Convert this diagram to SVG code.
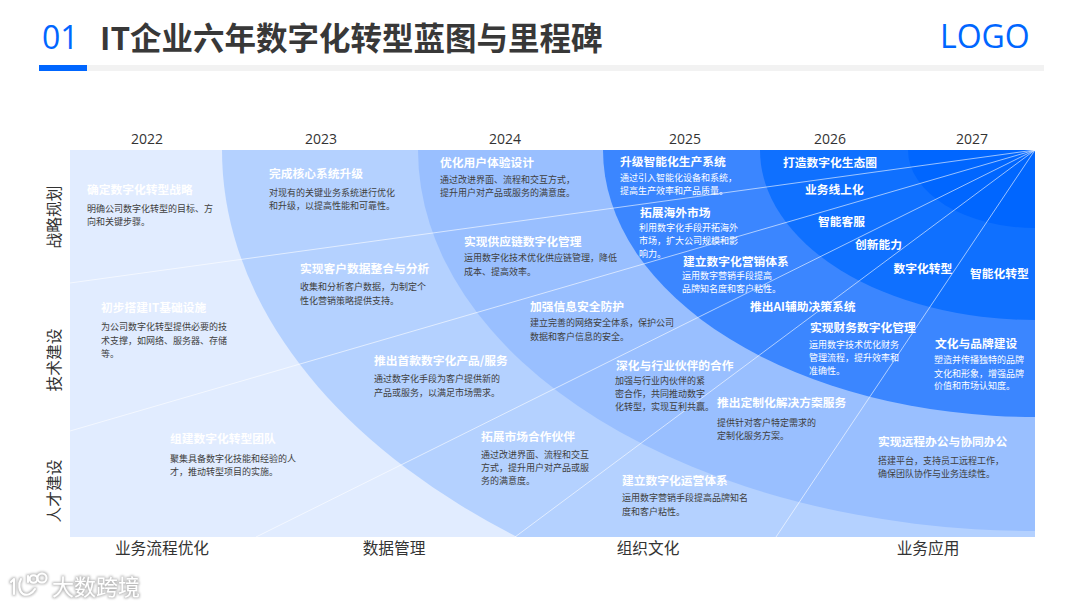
<svg xmlns="http://www.w3.org/2000/svg" width="1080" height="608" viewBox="0 0 1080 608">
<style>
text{font-family:"Noto Sans CJK SC","Noto Sans",sans-serif}
.h{font-size:11.75px;font-weight:700;fill:#fff}
.b{font-size:9px;fill:#404040}
.w{font-size:9px;fill:#fff}
.y{font-family:"Open Sans","Noto Sans",sans-serif;font-size:14px;fill:#333;text-anchor:middle}
.a{font-size:15.7px;fill:#333;text-anchor:middle}
.c{stroke:#fff;stroke-opacity:.75;stroke-width:.8;fill:none}
.m{fill:#fff}
.i{fill:none;stroke:#fff;stroke-width:2;stroke-linecap:round;stroke-linejoin:round}
</style>
<defs>
<clipPath id="chart"><rect x="70" y="150" width="965" height="387"/></clipPath>
<filter id="halo" x="-10%" y="-30%" width="120%" height="160%">
<feMorphology in="SourceAlpha" operator="dilate" radius="0.7" result="d"/>
<feGaussianBlur in="d" stdDeviation="0.8" result="bl"/>
<feFlood flood-color="#bdbdbd"/>
<feComposite in2="bl" operator="in" result="s"/>
<feMerge><feMergeNode in="s"/><feMergeNode in="SourceGraphic"/></feMerge>
</filter>
</defs>
<rect width="1080" height="608" fill="#fff"/>
<g id="header">
<rect x="39" y="65" width="1005" height="6" fill="#f2f2f2"/>
<rect x="39" y="65" width="48" height="6" fill="#0066ff"/>
<text x="42" y="49" style="font-family:'Open Sans',sans-serif;font-size:32px" fill="#0066ff">01</text>
<text x="100" y="50" font-size="31.5" font-weight="700" fill="#383838">IT企业六年数字化转型蓝图与里程碑</text>
<text x="940" y="48" style="font-family:'Open Sans',sans-serif;font-size:32px" fill="#0066ff">LOGO</text>
</g>
<g id="rings" clip-path="url(#chart)">
<rect x="70" y="150" width="965" height="387" fill="#e1ecff"/>
<ellipse cx="1035" cy="150" rx="813" ry="502" fill="#b4d1ff"/>
<ellipse cx="1035" cy="150" rx="617" ry="381" fill="#99bfff"/>
<ellipse cx="1035" cy="150" rx="432" ry="267" fill="#3b86ff"/>
<ellipse cx="1035" cy="150" rx="275" ry="170" fill="#0f70ff"/>
<ellipse cx="1035" cy="150" rx="127" ry="78" fill="#0066ff"/>
</g>
<g id="connectors">
<line class="c" x1="1035" y1="150" x2="70" y2="283"/>
<line class="c" x1="1035" y1="150" x2="70" y2="431"/>
<line class="c" x1="1035" y1="150" x2="256" y2="537"/>
<line class="c" x1="1035" y1="150" x2="515" y2="537"/>
<line class="c" x1="1035" y1="150" x2="776" y2="537"/>
</g>
<g id="years">
<text class="y" x="147" y="144">2022</text><text class="y" x="321" y="144">2023</text><text class="y" x="505" y="144">2024</text><text class="y" x="685" y="144">2025</text><text class="y" x="830" y="144">2026</text><text class="y" x="972" y="144">2027</text>
</g>
<g id="axis-y">
<text class="a" transform="translate(60 217) rotate(-90)">战略规划</text>
<text class="a" transform="translate(60 360) rotate(-90)">技术建设</text>
<text class="a" transform="translate(60 491) rotate(-90)">人才建设</text>
</g>
<g id="axis-x">
<text class="a" x="162" y="554">业务流程优化</text><text class="a" x="394" y="554">数据管理</text><text class="a" x="648" y="554">组织文化</text><text class="a" x="928" y="554">业务应用</text>
</g>
<g id="n1"><text class="h" x="87" y="194">确定数字化转型战略</text><text class="b" x="87" y="212">明确公司数字化转型的目标、方</text><text class="b" x="87" y="225">向和关键步骤。</text></g>
<g id="n2"><text class="h" x="269" y="178">完成核心系统升级</text><text class="b" x="269" y="196">对现有的关键业务系统进行优化</text><text class="b" x="269" y="209">和升级，以提高性能和可靠性。</text></g>
<g id="n3"><text class="h" x="300" y="273">实现客户数据整合与分析</text><text class="b" x="300" y="290">收集和分析客户数据，为制定个</text><text class="b" x="300" y="304">性化营销策略提供支持。</text></g>
<g id="n4"><text class="h" x="101" y="312">初步搭建IT基础设施</text><text class="b" x="101" y="330">为公司数字化转型提供必要的技</text><text class="b" x="101" y="344">术支撑，如网络、服务器、存储</text><text class="b" x="101" y="357">等。</text></g>
<g id="n5"><text class="h" x="170" y="443">组建数字化转型团队</text><text class="b" x="170" y="462">聚集具备数字化技能和经验的人</text><text class="b" x="170" y="475">才，推动转型项目的实施。</text></g>
<g id="n6"><text class="h" x="374" y="365">推出首款数字化产品/服务</text><text class="b" x="374" y="382">通过数字化手段为客户提供新的</text><text class="b" x="374" y="396">产品或服务，以满足市场需求。</text></g>
<g id="n7"><text class="h" x="440" y="167">优化用户体验设计</text><text class="b" x="440" y="183">通过改进界面、流程和交互方式，</text><text class="b" x="440" y="196">提升用户对产品或服务的满意度。</text></g>
<g id="n8"><text class="h" x="464" y="246">实现供应链数字化管理</text><text class="b" x="464" y="261">运用数字化技术优化供应链管理，降低</text><text class="b" x="464" y="275">成本、提高效率。</text></g>
<g id="n9"><text class="h" x="530" y="311">加强信息安全防护</text><text class="b" x="530" y="326">建立完善的网络安全体系，保护公司</text><text class="b" x="530" y="340">数据和客户信息的安全。</text></g>
<g id="n10"><text class="h" x="620" y="166">升级智能化生产系统</text><text class="w" x="620" y="181">通过引入智能化设备和系统，</text><text class="w" x="620" y="194">提高生产效率和产品质量。</text></g>
<g id="n11"><text class="h" x="640" y="217">拓展海外市场</text><text class="w" x="639" y="231">利用数字化手段开拓海外</text><text class="w" x="639" y="244">市场，扩大公司规模和影</text><text class="w" x="639" y="257">响力。</text></g>
<g id="n12"><text class="h" x="683" y="266">建立数字化营销体系</text><text class="w" x="682" y="279">运用数字营销手段提高</text><text class="w" x="682" y="292">品牌知名度和客户粘性。</text></g>
<g id="n13"><text class="h" x="616" y="370">深化与行业伙伴的合作</text><text class="b" x="615" y="384">加强与行业内伙伴的紧</text><text class="b" x="615" y="397">密合作，共同推动数字</text><text class="b" x="615" y="410">化转型，实现互利共赢。</text></g>
<g id="n14"><text class="h" x="717" y="407">推出定制化解决方案服务</text><text class="b" x="717" y="426">提供针对客户特定需求的</text><text class="b" x="717" y="439">定制化服务方案。</text></g>
<g id="n15"><text class="h" x="481" y="441">拓展市场合作伙伴</text><text class="b" x="481" y="458">通过改进界面、流程和交互</text><text class="b" x="481" y="471">方式，提升用户对产品或服</text><text class="b" x="481" y="484">务的满意度。</text></g>
<g id="n16"><text class="h" x="622" y="485">建立数字化运营体系</text><text class="b" x="622" y="501">运用数字营销手段提高品牌知名</text><text class="b" x="622" y="515">度和客户粘性。</text></g>
<g id="n17"><text class="h" x="878" y="446">实现远程办公与协同办公</text><text class="b" x="878" y="464">搭建平台，支持员工远程工作，</text><text class="b" x="878" y="477">确保团队协作与业务连续性。</text></g>
<g id="n18"><text class="h" x="935" y="348">文化与品牌建设</text><text class="w" x="934" y="363">塑造并传播独特的品牌</text><text class="w" x="934" y="377">文化和形象，增强品牌</text><text class="w" x="934" y="389">价值和市场认知度。</text></g>
<g id="n19"><text class="h" x="810" y="332">实现财务数字化管理</text><text class="w" x="809" y="348">运用数字技术优化财务</text><text class="w" x="809" y="361">管理流程，提升效率和</text><text class="w" x="809" y="374">准确性。</text></g>
<g id="n20"><text class="h" x="750" y="311">推出AI辅助决策系统</text></g>
<g id="n21"><text class="h" x="783" y="167">打造数字化生态圈</text></g>
<g id="n22"><text class="h" x="805" y="194">业务线上化</text></g>
<g id="n23"><text class="h" x="818" y="226">智能客服</text></g>
<g id="n24"><text class="h" x="855" y="249">创新能力</text></g>
<g id="n25"><text class="h" x="893.5" y="273">数字化转型</text></g>
<g id="n26"><text class="h" x="970" y="278">智能化转型</text></g>
<g id="watermark" filter="url(#halo)">
<path class="i" d="M11 582l3-3v15M21 579c-3 5-2 12 2 15 4 2 9 0 12-5M28 576v6"/>
<circle class="i" cx="33.500" cy="579" r="3.800"/>
<circle class="i" cx="42" cy="578" r="4.500"/>
<text class="m" x="52" y="595" font-size="22">大数跨境</text>
</g>
</svg>
